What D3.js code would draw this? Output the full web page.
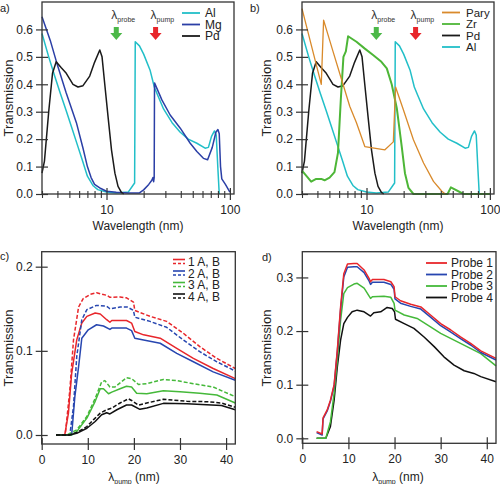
<!DOCTYPE html>
<html><head><meta charset="utf-8">
<script src="https://cdn.jsdelivr.net/npm/d3@7"></script>
<style>body{margin:0;background:#fff;} svg{display:block;font-family:"Liberation Sans",Arial,sans-serif;}</style>
</head><body><svg id="chart" width="500" height="484"></svg>
<script>
// ---------------- DATA ----------------
// Panels a/b: [wavelength (nm), transmission]
const alData = [[3,0.585],[3.4,0.5],[3.8,0.43],[4.2,0.37],[4.7,0.305],[5.2,0.245],[5.7,0.19],[6.4,0.12],[7.0,0.065],[7.8,0.03],[8.5,0.016],[10,0.007],[12,0.004],[15,0.007],[16.3,0.03],[16.9,0.04],[17.1,0.555],[18.5,0.54],[20,0.51],[22.6,0.45],[24.4,0.39],[26,0.36],[29,0.31],[34,0.26],[39.6,0.225],[46,0.2],[54,0.185],[63,0.167],[67,0.17],[71,0.21],[75,0.23],[77.5,0.215],[80,0.09],[82,0]];
const mgData = [[3,0.646],[3.5,0.56],[4,0.47],[4.7,0.37],[5.7,0.26],[6.45,0.167],[7,0.1],[7.5,0.06],[8,0.035],[9,0.02],[10,0.01],[12,0.006],[15,0.004],[18.5,0.004],[20,0.015],[22,0.035],[23.3,0.05],[23.8,0.06],[24.1,0.045],[24.35,0.06],[24.5,0.405],[28.1,0.343],[32.8,0.288],[39.6,0.24],[47.7,0.185],[54,0.155],[61,0.13],[66,0.125],[72,0.17],[77,0.225],[80,0.235],[82,0.22],[84,0.1],[86,0.055],[92,0.035],[100,0.007]];
const pdData = [[3,0.076],[3.14,0.12],[3.4,0.3],[3.65,0.44],[3.91,0.482],[4.3,0.46],[4.72,0.44],[5.35,0.4],[5.87,0.39],[6.45,0.395],[7.31,0.43],[8.0,0.48],[8.82,0.525],[9.2,0.5],[9.68,0.4],[10.3,0.28],[10.98,0.16],[11.7,0.076],[12.4,0.028],[13.2,0.006],[13.8,0]];
const paryData = [[3,0.676],[4.3,0.4],[4.49,0.634],[5.35,0.52],[6.45,0.4],[7.31,0.32],[8.29,0.26],[9.69,0.173],[14.1,0.161],[16.5,0.19],[17.2,0.39],[19.9,0.307],[24,0.198],[29,0.113],[34.9,0.046],[40.8,0.01],[43.5,0]];
const zrData = [[3,0.085],[3.56,0.045],[3.91,0.055],[4.3,0.055],[4.57,0.05],[5.02,0.06],[5.5,0.08],[5.87,0.15],[6.2,0.35],[6.5,0.5],[6.8,0.52],[7.09,0.575],[8.29,0.555],[9.69,0.53],[11.3,0.507],[13.2,0.482],[14.6,0.458],[16,0.4],[17.6,0.313],[19.3,0.173],[20.5,0.076],[21.9,0.022],[24,0],[45.4,0],[48.3,0.024],[61.2,0],[100,0]];
// Panel c: [pump wavelength (nm), transmission]
const c1A = [[3.1,0],[5.0,0],[5.8,0.026],[6.5,0.073],[7.6,0.113],[8.7,0.133],[9.8,0.141],[11.6,0.145],[12.7,0.1438],[14.1,0.137],[14.8,0.134],[15.2,0.136],[18.4,0.136],[19.5,0.133],[20.2,0.123],[22.1,0.119],[25.7,0.115],[29.3,0.103],[32.9,0.091],[37.2,0.079],[42,0.067]];
const c1B = [[3.1,0],[5.1,0],[6.1,0.053],[6.9,0.113],[8.0,0.152],[9.0,0.162],[10.5,0.167],[11.9,0.169],[14.1,0.166],[14.8,0.1636],[17,0.164],[18.4,0.163],[19.9,0.158],[20.2,0.148],[23.5,0.141],[27.1,0.135],[30.7,0.121],[34.3,0.105],[38,0.091],[42,0.079]];
const c2A = [[3.1,0],[6.5,0],[7.2,0.046],[8.0,0.081],[8.7,0.115],[10.1,0.125],[11.9,0.131],[13.4,0.1295],[14.8,0.1255],[15.2,0.127],[18.4,0.127],[19.5,0.124],[20.2,0.115],[22.1,0.113],[25.7,0.109],[29.3,0.097],[32.9,0.087],[37.2,0.075],[42,0.065]];
const c2B = [[3.1,0],[6.1,0],[6.9,0.034],[7.6,0.093],[8.7,0.137],[9.8,0.149],[11.9,0.154],[14.1,0.153],[14.8,0.15],[17,0.152],[18.6,0.152],[19.9,0.148],[20.2,0.14],[23.5,0.135],[27.1,0.128],[30.7,0.113],[34.3,0.099],[38,0.087],[42,0.076]];
const c3A = [[3.1,0],[6.5,0],[7.6,0.004],[9.8,0.02],[11.6,0.04],[12.7,0.055],[13.4,0.055],[14.5,0.049],[15.2,0.051],[17,0.055],[18.4,0.058],[19.5,0.057],[20.6,0.0495],[22.8,0.049],[26.4,0.0527],[30,0.0515],[34.3,0.0495],[38,0.0475],[42,0.038]];
const c3B = [[3.1,0],[5.4,0],[7.6,0.006],[9.8,0.022],[11.6,0.0435],[13,0.063],[13.7,0.0646],[14.8,0.057],[15.9,0.057],[18.4,0.068],[19.5,0.067],[21,0.06],[22.8,0.061],[26.4,0.066],[29.3,0.0646],[32.9,0.061],[37.2,0.057],[42,0.0455]];
const c4A = [[3.1,0],[6,0],[7.6,0.002],[9.8,0.008],[11.6,0.016],[13,0.024],[14.1,0.0265],[14.8,0.025],[16.3,0.03],[18.4,0.0356],[19.5,0.0356],[21.3,0.0305],[22.8,0.032],[26.4,0.0376],[31.5,0.037],[35.8,0.036],[39,0.035],[42,0.03]];
const c4B = [[3.1,0],[6,0],[7.6,0.003],[9.8,0.01],[11.2,0.018],[12.7,0.026],[14.1,0.03],[15.2,0.032],[17,0.038],[18.8,0.043],[19.5,0.041],[21,0.0356],[22.8,0.038],[26.4,0.0424],[31.5,0.04],[35.8,0.0396],[39,0.038],[42,0.033]];
// Panel d: [pump wavelength (nm), transmission]
const probe1 = [[3.1,0.0124],[4.3,0.008],[4.5,0.038],[5.4,0.053],[6.1,0.071],[6.9,0.1],[7.6,0.165],[8.3,0.245],[9.0,0.307],[9.8,0.325],[11.2,0.326],[11.9,0.326],[13.4,0.314],[14.5,0.298],[14.8,0.292],[15.2,0.296],[17.7,0.296],[19.2,0.292],[19.9,0.283],[20.1,0.264],[21.3,0.2565],[23.5,0.25],[25.7,0.245],[27.8,0.23],[30,0.214],[32.2,0.202],[34.3,0.189],[36.5,0.177],[38.7,0.163],[42,0.149]];
const probe2 = [[3.1,0.0105],[4.3,0.006],[4.5,0.036],[5.4,0.051],[6.1,0.069],[6.9,0.098],[7.6,0.162],[8.3,0.24],[9.0,0.301],[9.8,0.319],[11.2,0.32],[11.9,0.32],[13.4,0.309],[14.5,0.293],[14.8,0.287],[15.2,0.291],[17.7,0.291],[19.2,0.287],[19.9,0.278],[20.1,0.26],[21.3,0.252],[23.5,0.246],[25.7,0.241],[27.8,0.226],[30,0.21],[32.2,0.198],[34.3,0.186],[36.5,0.174],[38.7,0.16],[42,0.146]];
const probe3 = [[3.1,0],[5.1,0],[6.1,0.031],[6.9,0.084],[7.6,0.146],[8.3,0.22],[9.0,0.27],[9.8,0.281],[11.2,0.2876],[11.9,0.289],[13.4,0.28],[14.8,0.261],[15.2,0.264],[17.7,0.265],[19.2,0.263],[19.9,0.2516],[20.1,0.239],[22.1,0.23],[24.9,0.2236],[27.8,0.208],[30,0.1956],[34.3,0.177],[38.7,0.158],[42,0.135]];
const probe4 = [[3.1,0],[5.1,0],[6.1,0.022],[6.9,0.071],[7.6,0.1335],[8.3,0.183],[9.0,0.214],[9.8,0.2255],[10.8,0.236],[11.9,0.239],[13.4,0.236],[14.8,0.228],[15.5,0.234],[17,0.236],[18.4,0.244],[19.5,0.242],[20,0.236],[20.2,0.222],[22.1,0.214],[24.2,0.205],[26.4,0.189],[28.6,0.171],[30.7,0.152],[32.9,0.1366],[35.1,0.126],[37.2,0.121],[38.7,0.115],[42,0.1056]];

// Ticks & labels
const logMajorTicks = [10, 100];
const logMinorTicks = [3,4,5,6,7,8,9,20,30,40,50,60,70,80,90];
const transTicksAB = [0,0.1,0.2,0.3,0.4,0.5,0.6];
const pumpTicks = [0,10,20,30,40];
const transTicksC = [0,0.1,0.2];
const transTicksD = [0,0.1,0.2,0.3];
const probeWl = 12, pumpWl = 25;
const legendA = ["Al","Mg","Pd"];
const legendB = ["Pary","Zr","Pd","Al"];
const legendC = ["1 A, B","2 A, B","3 A, B","4 A, B"];
const legendD = ["Probe 1","Probe 2","Probe 3","Probe 4"];

// ---------------- STYLE ----------------
const COL = {al:"#22bfc8", mg:"#2b3fa6", pd:"#1a1a1a", pary:"#d98a2b", zr:"#4db637",
             red:"#e8262b", blue:"#2746b0", green:"#45b93a", black:"#111"};
const FRAME = "#333";
const svg = d3.select("#chart");

function panel(o){
  const x = (o.log ? d3.scaleLog() : d3.scaleLinear()).domain(o.xd).range([o.l, o.r]);
  const y = d3.scaleLinear().domain(o.yd).range([o.b, o.t]);
  const g = svg.append("g");
  return {x, y, g, o};
}
function drawAxes(p, xTicks, xMinor, yTicks, yFmt){
  const {x,y,g,o} = p;
  const gx = g.append("g").attr("transform",`translate(0,${o.b})`)
    .call(d3.axisBottom(x).tickValues(xTicks).tickSize(6).tickPadding(5).tickFormat(d3.format("d")));
  gx.select(".domain").remove();
  gx.selectAll(".tick line").attr("y1",-6).attr("y2",6).attr("stroke",FRAME).attr("stroke-width",1.2);
  gx.selectAll(".tick text").attr("font-size",12).attr("fill","#222").attr("font-family",null);
  if (xMinor){
    const gm = g.append("g").attr("transform",`translate(0,${o.b})`)
      .call(d3.axisBottom(x).tickValues(xMinor).tickSize(4).tickFormat(""));
    gm.select(".domain").remove();
    gm.selectAll(".tick line").attr("y1",-3).attr("y2",4).attr("stroke",FRAME).attr("stroke-width",1.1);
  }
  const gy = g.append("g").attr("transform",`translate(${o.l},0)`)
    .call(d3.axisLeft(y).tickValues(yTicks).tickSize(6).tickPadding(3).tickFormat(d3.format(yFmt)));
  gy.select(".domain").remove();
  gy.selectAll(".tick line").attr("x1",-6).attr("x2",6).attr("stroke",FRAME).attr("stroke-width",1.2);
  gy.selectAll(".tick text").attr("font-size",12).attr("fill","#222").attr("font-family",null);
  g.append("rect").attr("x",o.l).attr("y",o.t).attr("width",o.r-o.l).attr("height",o.b-o.t)
    .attr("fill","none").attr("stroke",FRAME).attr("stroke-width",1.3);
}
function curve(p, data, color, dash, w){
  const line = d3.line().x(d=>p.x(d[0])).y(d=>p.y(d[1]));
  p.g.append("path").attr("d",line(data)).attr("fill","none").attr("stroke",color)
    .attr("stroke-width",w||1.5).attr("stroke-linejoin","round")
    .attr("stroke-dasharray",dash||null);
}
function yTitle(cx, cy){
  svg.append("text").attr("transform",`translate(${cx},${cy}) rotate(-90)`)
    .attr("text-anchor","middle").attr("font-size",13).attr("fill","#222").text("Transmission");
}
function letter(x,y,t){ svg.append("text").attr("x",x).attr("y",y).attr("font-size",11).attr("fill","#222").text(t); }
function arrow(p, wl, color, sub){
  const cx = p.x(wl), top = 27;
  const t = svg.append("text").attr("x",cx-5).attr("y",19).attr("font-size",12).attr("fill","#333");
  t.append("tspan").text("λ");
  t.append("tspan").attr("font-size",7).attr("dy",3).text(sub);
  const pts = [[cx-2.5,top],[cx+2.5,top],[cx+2.5,top+6],[cx+6,top+6],[cx,top+13],[cx-6,top+6],[cx-2.5,top+6]];
  svg.append("polygon").attr("points",pts.map(d=>d.join(",")).join(" ")).attr("fill",color);
}
function legend(items, x1, x2, tx, ys, fs){
  items.forEach((it,i)=>{
    if (it.dual){
      svg.append("line").attr("x1",x1).attr("x2",x2).attr("y1",ys[i]-2.5).attr("y2",ys[i]-2.5).attr("stroke",it.color).attr("stroke-width",1.6);
      svg.append("line").attr("x1",x1).attr("x2",x2).attr("y1",ys[i]+1.5).attr("y2",ys[i]+1.5).attr("stroke",it.color).attr("stroke-width",1.6).attr("stroke-dasharray","3,2");
    } else {
      svg.append("line").attr("x1",x1).attr("x2",x2).attr("y1",ys[i]).attr("y2",ys[i]).attr("stroke",it.color).attr("stroke-width",1.8);
    }
    svg.append("text").attr("x",tx).attr("y",ys[i]).attr("dy","0.35em").attr("font-size",fs).attr("fill","#222").text(it.label);
  });
}

// ---------------- PANEL A ----------------
const pa = panel({log:true, xd:[3,108], yd:[0,0.7], l:42, r:234, t:2, b:194});
curve(pa, alData, COL.al); curve(pa, mgData, COL.mg); curve(pa, pdData, COL.pd);
drawAxes(pa, logMajorTicks, logMinorTicks, transTicksAB, ".1f");
arrow(pa, probeWl, "#4cb848", "probe"); arrow(pa, pumpWl, "#e8262b", "pump");
legend([{label:legendA[0],color:COL.al},{label:legendA[1],color:COL.mg},{label:legendA[2],color:COL.pd}], 182, 200, 205, [13,24.5,36], 12);
yTitle(13, 98);
svg.append("text").attr("x",138).attr("y",230).attr("text-anchor","middle").attr("font-size",12).attr("fill","#222").text("Wavelength (nm)");
letter(0,12,"a)");

// ---------------- PANEL B ----------------
const pb = panel({log:true, xd:[3,108], yd:[0,0.7], l:302, r:494, t:2, b:194});
curve(pb, alData, COL.al); curve(pb, pdData, COL.pd); curve(pb, zrData, COL.zr, null, 2); curve(pb, paryData, COL.pary, null, 1.3);
drawAxes(pb, logMajorTicks, logMinorTicks, transTicksAB, ".1f");
arrow(pb, probeWl, "#4cb848", "probe"); arrow(pb, pumpWl, "#e8262b", "pump");
legend([{label:legendB[0],color:COL.pary},{label:legendB[1],color:COL.zr},{label:legendB[2],color:COL.pd},{label:legendB[3],color:COL.al}], 442, 460, 466, [12.5,24,35.5,47], 11.5);
yTitle(271, 98);
svg.append("text").attr("x",398).attr("y",230).attr("text-anchor","middle").attr("font-size",12).attr("fill","#222").text("Wavelength (nm)");
letter(250,12,"b)");

// ---------------- PANEL C ----------------
const pc = panel({log:false, xd:[0,42], yd:[-0.0107,0.2178], l:41.7, r:235.3, t:251.7, b:444});
curve(pc, c1B, COL.red, "4,2"); curve(pc, c1A, COL.red);
curve(pc, c2B, COL.blue, "4,2"); curve(pc, c2A, COL.blue);
curve(pc, c3B, COL.green, "4,2"); curve(pc, c3A, COL.green);
curve(pc, c4B, COL.black, "4,2"); curve(pc, c4A, COL.black);
drawAxes(pc, pumpTicks, null, transTicksC, ".1f");
legend(legendC.map((l,i)=>({label:l,color:[COL.red,COL.blue,COL.green,COL.black][i],dual:true})), 173, 185, 188, [262,273.5,285,296.5], 12);
yTitle(13, 348);
function pumpTitle(cx){
  const t = svg.append("text").attr("x",cx).attr("y",481).attr("text-anchor","middle").attr("font-size",12).attr("fill","#222");
  t.append("tspan").text("λ");
  t.append("tspan").attr("font-size",7).attr("dy",3).text("pump");
  t.append("tspan").attr("dy",-3).text(" (nm)");
}
pumpTitle(134);
letter(0,260,"c)");

// ---------------- PANEL D ----------------
const pd = panel({log:false, xd:[0,42], yd:[-0.0093,0.348], l:302.3, r:496, t:251.7, b:443.3});
curve(pd, probe4, COL.black); curve(pd, probe3, COL.green); curve(pd, probe2, COL.blue); curve(pd, probe1, COL.red);
drawAxes(pd, pumpTicks, null, transTicksD, ".1f");
legend(legendD.map((l,i)=>({label:l,color:[COL.red,COL.blue,COL.green,COL.black][i]})), 426, 447, 451, [263,274.5,286,297.5], 12);
yTitle(271, 348);
pumpTitle(398);
letter(262,261,"d)");
</script></body></html>
